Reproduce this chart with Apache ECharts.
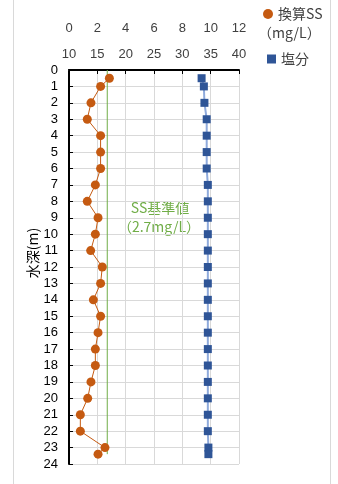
<!DOCTYPE html>
<html><head><meta charset="utf-8">
<script src="https://cdn.jsdelivr.net/npm/echarts@6/dist/echarts.min.js"></script>
<style>html,body{margin:0;padding:0;background:#fff}#c{width:338px;height:484px}</style>
</head><body><div id="c"></div>
<script>
const depths = [0.5,1,2,3,4,5,6,7,8,9,10,11,12,13,14,15,16,17,18,19,20,21,22,23,23.4];
const ssValues = [2.85,2.23,1.55,1.29,2.23,2.23,2.23,1.86,1.29,2.05,1.86,1.53,2.35,2.23,1.72,2.23,2.05,1.86,1.86,1.55,1.32,0.8,0.8,2.54,2.05];
const saltValues = [33.4,33.8,33.9,34.3,34.3,34.3,34.3,34.5,34.5,34.5,34.5,34.5,34.5,34.5,34.5,34.5,34.5,34.5,34.5,34.5,34.5,34.5,34.5,34.6,34.6];
const ssStandard = 2.7;
const standardDepths = [0, 23.4];
const ssTicks = [0,2,4,6,8,10,12];
const saltTicks = [10,15,20,25,30,35,40];

const F = "'Liberation Sans','Noto Sans CJK JP',sans-serif";
const FJ = "'Noto Sans CJK JP',sans-serif";
const chart = echarts.init(document.getElementById('c'));
chart.setOption({
  animation:false,
  grid:{left:69,top:70,width:170,height:394},
  legend:[
    {data:[{name:'換算SS',icon:'circle'}],left:263,top:7,itemWidth:10,itemHeight:10,itemGap:0,padding:0,
     textStyle:{fontFamily:FJ,fontSize:14,color:'#404040'}},
    {data:[{name:'塩分',icon:'rect'}],left:267,top:52,itemWidth:9,itemHeight:9,padding:0,
     textStyle:{fontFamily:FJ,fontSize:14,color:'#404040'}}
  ],
  xAxis:[
    {type:'value',position:'top',offset:26,min:ssTicks[0],max:ssTicks[ssTicks.length-1],interval:2,
     axisLine:{show:true,lineStyle:{color:'#d9d9d9',width:1}},axisTick:{show:false},
     axisLabel:{fontFamily:F,fontSize:13,color:'#404040',margin:9},
     splitLine:{show:true,lineStyle:{color:'#d9d9d9',width:1}}},
    {type:'value',position:'top',offset:0,min:saltTicks[0],max:saltTicks[saltTicks.length-1],interval:5,
     axisLine:{show:true,lineStyle:{color:'#000',width:2}},
     axisTick:{show:true,inside:true,length:4,lineStyle:{color:'#000',width:1}},
     axisLabel:{fontFamily:F,fontSize:13,color:'#404040',margin:9},
     splitLine:{show:false}}
  ],
  yAxis:{type:'value',inverse:true,min:0,max:24,interval:1,
    axisLine:{show:true,lineStyle:{color:'#000',width:2}},
    axisTick:{show:true,inside:true,length:4,lineStyle:{color:'#000',width:1}},
    axisLabel:{fontFamily:F,fontSize:13,color:'#000',margin:11},
    splitLine:{show:true,lineStyle:{color:'#d9d9d9',width:1}}},
  series:[
    {name:'基準',type:'line',xAxisIndex:0,symbol:'none',silent:true,
     lineStyle:{color:'#70ad47',width:1},
     data:standardDepths.map(d=>[ssStandard,d]),z:1},
    {name:'塩分',type:'line',xAxisIndex:1,symbol:'rect',symbolSize:8,
     itemStyle:{color:'#2f5597'},lineStyle:{color:'#8faadc',width:2},
     data:depths.map((d,i)=>[saltValues[i],d]),z:2},
    {name:'換算SS',type:'line',xAxisIndex:0,symbol:'circle',symbolSize:9,
     itemStyle:{color:'#c55a11'},lineStyle:{color:'#c55a11',width:1},
     data:depths.map((d,i)=>[ssValues[i],d]),z:3}
  ],
  graphic:[
    {type:'rect',shape:{x:13.5,y:-2,width:317,height:490},style:{fill:'none',stroke:'#d9d9d9',lineWidth:1},silent:true},
    {type:'text',x:258,y:33,style:{text:'（mg/L）',font:"14px "+FJ,fill:'#404040',verticalAlign:'middle'}},
    {type:'text',x:160,y:208,style:{text:'SS基準値',font:"14px "+FJ,fill:'#70ad47',align:'center',verticalAlign:'middle'}},
    {type:'text',x:159,y:227,style:{text:'（2.7mg/L）',font:"14px "+FJ,fill:'#70ad47',align:'center',verticalAlign:'middle'}},
    {type:'text',x:33,y:253,rotation:Math.PI/2,style:{text:'水深(m)',font:"14px "+FJ,fill:'#000',align:'center',verticalAlign:'middle'}}
  ]
});
</script></body></html>
